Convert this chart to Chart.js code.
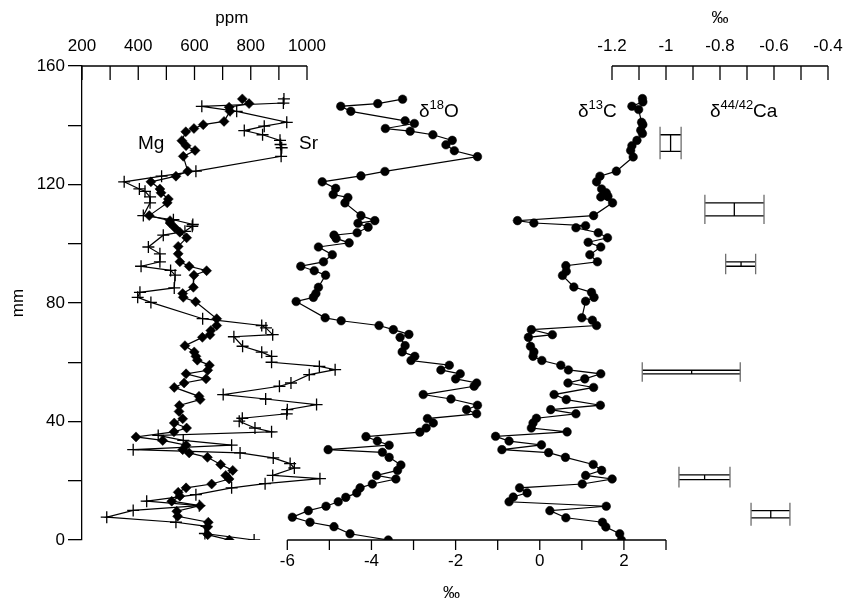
<!DOCTYPE html>
<html><head><meta charset="utf-8">
<script src="https://cdn.jsdelivr.net/npm/chart.js@4.4.0/dist/chart.umd.min.js"></script>
<style>html,body{margin:0;padding:0;background:#fff;}#wrap{width:843px;height:604px;position:relative;}</style>
</head><body><div id="wrap"><canvas id="c" width="843" height="604"></canvas></div>
<script>
// ---------- DATA (depth in mm) ----------
const mgDepth = [148.9,147.3,146.1,144.7,141.3,140.2,138.9,137.8,134.8,133.1,131.5,129.5,124.5,122.8,120.9,118.5,117.2,115.1,113.8,109.5,107.8,107.0,105.4,103.9,102.0,99.1,96.6,93.9,92.4,90.9,89.4,85.3,83.2,81.9,80.4,74.7,72.4,70.7,69.3,68.4,65.6,63.5,62.0,60.7,59.0,57.3,56.1,54.4,53.0,51.5,48.5,47.4,45.4,43.4,40.9,39.5,37.8,36.5,34.8,33.6,32.0,30.5,29.4,27.9,25.5,23.5,21.8,20.6,18.9,17.6,16.1,14.8,13.1,11.6,9.7,8.0,6.0,4.4,1.8,0];
const mgPpm   = [770,794,723,726,705,631,598,569,555,570,602,560,576,534,445,477,481,507,503,439,513,513,530,548,572,542,542,548,581,643,598,596,558,560,604,679,679,658,655,628,566,599,605,610,653,647,570,641,563,528,616,620,546,545,558,528,572,527,392,487,570,558,581,646,693,736,711,723,661,570,542,548,519,620,537,540,649,646,647,724];

const srDepth = [148.9,147.5,146.4,144.7,141.0,139.7,138.2,136.8,134.9,133.5,132.4,129.5,124.5,122.8,120.9,118.5,117.7,115.8,113.8,109.5,108.1,106.5,105.9,104.2,102.9,98.9,96.6,93.9,92.4,91.0,89.4,85.1,83.6,81.9,80.2,74.7,72.4,71.6,69.3,68.6,65.4,63.4,62.0,60.0,58.6,57.5,55.8,53.0,51.9,49.1,47.6,45.7,44.0,42.6,41.1,40.1,37.8,36.5,35.3,33.6,32.0,30.5,29.4,27.7,25.8,24.3,21.8,20.7,19.0,17.6,15.3,13.1,11.6,10.0,7.7,6.0,4.6,2.2,0];
const srPpm   = [918,916,626,750,928,848,777,842,904,906,910,908,605,483,350,404,424,442,442,418,525,594,592,566,489,436,477,477,410,515,531,528,406,398,445,629,839,854,878,740,771,839,874,874,1044,1100,1008,943,902,702,853,1034,930,928,770,759,815,874,471,560,732,382,762,880,940,955,878,1046,851,732,605,430,617,382,288,534,643,637,812];

const o18Depth = [148.8,147.3,146.4,144.7,141.5,140.6,138.9,138.0,136.8,134.9,133.4,131.4,129.4,124.4,122.9,120.9,118.7,116.6,115.6,113.8,109.5,107.8,106.9,105.6,103.7,102.9,101.8,100.3,98.9,96.3,93.9,92.4,90.9,89.4,85.3,83.2,81.9,80.5,75.0,74.0,72.4,71.0,69.4,68.4,65.6,63.5,62.0,60.6,59.0,57.4,56.1,54.4,53.0,51.9,49.1,47.6,45.5,44.0,42.6,41.0,39.5,37.8,36.4,34.9,33.4,32.0,30.5,29.6,27.9,25.3,23.5,21.8,20.6,18.9,17.6,15.9,14.4,12.9,11.4,9.9,7.7,6.0,4.5,2.1,0];
const o18 = [-3.26,-3.85,-4.73,-4.49,-3.20,-2.98,-3.67,-3.08,-2.54,-2.08,-2.23,-2.03,-1.48,-3.68,-4.25,-5.17,-4.85,-4.91,-4.56,-4.63,-4.25,-3.92,-4.32,-4.08,-4.34,-4.89,-4.84,-4.53,-5.26,-4.93,-5.14,-5.68,-5.36,-5.09,-5.26,-5.32,-5.38,-5.79,-5.10,-4.72,-3.82,-3.48,-3.11,-3.32,-3.20,-3.27,-2.97,-3.06,-2.15,-2.35,-1.89,-2.00,-1.50,-1.56,-2.77,-2.11,-1.48,-1.74,-1.50,-2.67,-2.53,-2.70,-2.85,-4.13,-3.86,-3.58,-5.03,-3.74,-3.58,-3.30,-3.38,-3.88,-3.42,-3.98,-4.27,-4.35,-4.61,-4.79,-5.08,-5.50,-5.88,-5.46,-4.89,-4.51,-3.60];

const c13Depth = [149.0,147.9,146.4,145.3,141.0,140.2,138.3,137.2,134.9,133.1,131.5,129.3,124.5,122.8,120.9,118.5,117.2,116.0,115.8,113.8,109.5,107.8,107.0,106.1,105.4,103.7,102.0,100.5,98.9,96.3,93.9,92.6,90.7,89.3,85.4,83.6,81.9,80.6,75.0,74.2,72.4,71.0,69.3,68.4,65.4,63.5,62.0,60.6,59.0,57.4,56.1,54.4,53.0,51.5,49.1,47.4,45.5,44.0,42.6,41.1,39.5,37.8,36.5,35.0,33.4,32.1,30.5,29.5,27.9,25.5,23.5,21.8,20.6,18.9,17.6,15.9,14.5,12.9,11.4,9.9,7.5,6.0,4.4,2.1,0];
const c13 = [2.44,2.45,2.19,2.35,2.42,2.45,2.40,2.44,2.31,2.19,2.16,2.22,1.82,1.43,1.35,1.47,1.58,1.62,1.45,1.73,1.28,-0.53,-0.14,1.09,0.86,1.39,1.61,1.15,1.45,1.19,1.37,0.62,0.63,0.54,0.81,1.23,1.29,1.09,1.00,1.25,1.35,-0.20,0.30,-0.27,-0.22,-0.14,-0.16,0.05,0.50,0.68,1.45,1.07,0.67,1.28,0.34,0.63,1.44,0.26,0.86,-0.08,-0.16,-0.20,0.65,-1.05,-0.73,0.04,-0.90,0.21,0.61,1.27,1.47,1.09,1.72,1.01,-0.48,-0.30,-0.63,-0.73,1.58,0.24,0.62,1.49,1.57,1.90,1.94];

// δ44/42Ca: sample depth interval (mm) and value range (‰)
const caDepthTop = [136.8,113.8,93.9,57.3,22.0,9.9];
const caDepthBot = [131.2,109.4,92.4,56.1,20.4,7.5];
const caLow  = [-1.022,-0.856,-0.779,-1.088,-0.952,-0.685];
const caMean = [-0.983,-0.747,-0.722,-0.905,-0.857,-0.612];
const caHigh = [-0.944,-0.637,-0.668,-0.725,-0.763,-0.541];

// Tick labels
const yTickLabels   = [0,40,80,120,160];
const ppmTickLabels = [200,400,600,800,1000];
const isoTickLabels = [-6,-4,-2,0,2];
const caTickLabels  = [-1.2,-1,-0.8,-0.6,-0.4];

// ---------- LAYOUT ----------
const W = 843, H = 604;
const AREA = {left:82, right:830, top:66, bottom:540};
function rangeFrom(v0, p0, v1, p1){
  const k = (v1 - v0)/(p1 - p0);
  return {min: v0 + (AREA.left - p0)*k, max: v0 + (AREA.right - p0)*k};
}
const ppmR = rangeFrom(200, 82, 1000, 307);
const isoR = rangeFrom(-6, 287.3, 3, 666);
const caR  = rangeFrom(-1.2, 612, -0.4, 828);

const FONT = "'Liberation Sans', Arial, sans-serif";

function pts(depths, vals){ return depths.map((d,i)=>({x:vals[i], y:d})); }

const axesPlugin = {
  id:'partialAxes',
  afterDraw(chart){
    const ctx = chart.ctx, s = chart.scales;
    ctx.save();
    ctx.strokeStyle = '#000'; ctx.fillStyle = '#000'; ctx.lineWidth = 1.3;
    function hAxis(scale, from, to, step, labels, y, dir, tickLen, labelY){
      const x0 = scale.getPixelForValue(from), x1 = scale.getPixelForValue(to);
      ctx.beginPath(); ctx.moveTo(x0, y); ctx.lineTo(x1, y); ctx.stroke();
      const n = Math.round((to-from)/step);
      for(let i=0;i<=n;i++){
        const v = from + i*step, x = scale.getPixelForValue(v);
        ctx.beginPath(); ctx.moveTo(x, y); ctx.lineTo(x, y + dir*tickLen); ctx.stroke();
      }
      ctx.font = "17px " + FONT; ctx.textAlign='center'; ctx.textBaseline='middle';
      labels.forEach(v=>{ ctx.fillText(String(v), scale.getPixelForValue(v), labelY); });
    }
    hAxis(s.xppm, 200, 1000, 100, ppmTickLabels, 66, 1, 14, 46);
    hAxis(s.xca, -1.2, -0.4, 0.1, caTickLabels, 66, 1, 14, 46);
    hAxis(s.xiso, -6, 3, 1, isoTickLabels, 540, 1, 10, 561);
    // axis titles
    ctx.font = "17px " + FONT; ctx.textAlign='center'; ctx.textBaseline='middle';
    ctx.fillText('ppm', s.xppm.getPixelForValue(733), 18);
    ctx.fillText('\u2030', s.xca.getPixelForValue(-0.8), 18);
    ctx.fillText('\u2030', s.xiso.getPixelForValue(-2.1), 593);
    // series labels
    ctx.textBaseline='alphabetic'; ctx.textAlign='left';
    function iso(x, y, sup, tail){
      ctx.font = "19px " + FONT; ctx.fillText('\u03b4', x, y);
      const w = ctx.measureText('\u03b4').width;
      ctx.font = "13px " + FONT; ctx.fillText(sup, x + w, y - 8);
      const w2 = ctx.measureText(sup).width;
      ctx.font = "19px " + FONT; ctx.fillText(tail, x + w + w2, y);
    }
    ctx.font = "19px " + FONT;
    ctx.fillText('Mg', 138, 149);
    ctx.fillText('Sr', 299, 149);
    iso(419, 117, '18', 'O');
    iso(578, 117, '13', 'C');
    iso(710, 117, '44/42', 'Ca');
    // Ca boxes
    const xs = s.xca, ys = s.y;
    for(let i=0;i<caMean.length;i++){
      const xl = xs.getPixelForValue(caLow[i]), xh = xs.getPixelForValue(caHigh[i]), xm = xs.getPixelForValue(caMean[i]);
      const yt = ys.getPixelForValue(caDepthTop[i]), yb = ys.getPixelForValue(caDepthBot[i]);
      ctx.strokeStyle='#000'; ctx.lineWidth=1.3;
      ctx.beginPath();
      ctx.moveTo(xl, yt); ctx.lineTo(xh, yt);
      ctx.moveTo(xl, yb); ctx.lineTo(xh, yb);
      ctx.moveTo(xm, yt); ctx.lineTo(xm, yb);
      ctx.stroke();
      ctx.strokeStyle='#6e6e6e';
      ctx.beginPath();
      ctx.moveTo(xl, yt-8); ctx.lineTo(xl, yb+8);
      ctx.moveTo(xh, yt-8); ctx.lineTo(xh, yb+8);
      ctx.stroke();
    }
    ctx.restore();
  }
};

const common = {borderColor:'#000', backgroundColor:'#000', borderWidth:1.2, pointBorderColor:'#000', pointBackgroundColor:'#000', fill:false, tension:0, yAxisID:'y'};

new Chart(document.getElementById('c'), {
  type:'line',
  data:{ datasets:[
    Object.assign({label:'Sr', data:pts(srDepth, srPpm), xAxisID:'xppm', pointStyle:'cross', pointRadius:6, pointBorderWidth:1.3}, common),
    Object.assign({label:'Mg', data:pts(mgDepth, mgPpm), xAxisID:'xppm', pointStyle:'rectRot', pointRadius:5, pointBorderWidth:0.5}, common),
    Object.assign({label:'d18O', data:pts(o18Depth, o18), xAxisID:'xiso', pointStyle:'circle', pointRadius:4.3, pointBorderWidth:0.5}, common),
    Object.assign({label:'d13C', data:pts(c13Depth, c13), xAxisID:'xiso', pointStyle:'circle', pointRadius:4.3, pointBorderWidth:0.5}, common),
    Object.assign({label:'Ca', data:pts(caDepthTop.map((t,i)=>(t+caDepthBot[i])/2), caMean), xAxisID:'xca', showLine:false, pointRadius:0}, common)
  ]},
  options:{
    responsive:false, animation:false, devicePixelRatio:1,
    layout:{padding:{left:0, right:W-AREA.right, top:AREA.top, bottom:H-AREA.bottom}},
    plugins:{legend:{display:false}, tooltip:{enabled:false}},
    scales:{
      xppm:{type:'linear', position:'top', display:false, min:ppmR.min, max:ppmR.max},
      xiso:{type:'linear', position:'bottom', display:false, min:isoR.min, max:isoR.max},
      xca:{type:'linear', position:'top', display:false, min:caR.min, max:caR.max},
      y:{type:'linear', position:'left', min:0, max:160,
         afterFit(sc){ sc.width = AREA.left; },
         ticks:{stepSize:20, color:'#000', font:{size:17, family:FONT}, padding:3,
                callback:v=> (yTickLabels.includes(v) ? String(v) : '')},
         grid:{drawOnChartArea:false, tickLength:14, color:'#000', lineWidth:1.3},
         border:{display:true, color:'#000', width:1.3},
         title:{display:true, text:'mm', color:'#000', font:{size:17, family:FONT}, padding:{top:8,bottom:0}}
      }
    }
  },
  plugins:[axesPlugin]
});
</script>
</body></html>
